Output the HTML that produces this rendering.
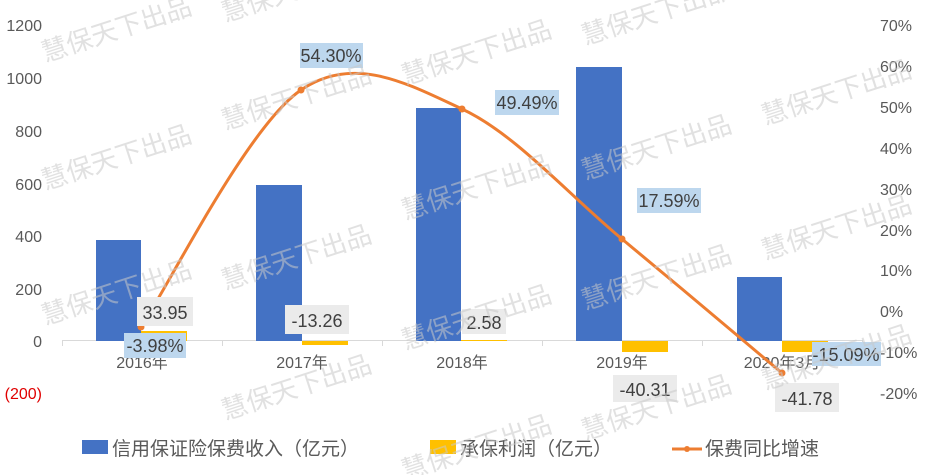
<!DOCTYPE html>
<html><head><meta charset="utf-8"><style>
body{margin:0;background:#fff}
svg{display:block;font-family:"Liberation Sans","Noto Sans CJK SC",sans-serif}
</style></head><body>
<svg width="932" height="475" viewBox="0 0 932 475">
<g font-size="16" fill="#595959" text-anchor="end">
<text x="42" y="31">1200</text><text x="42" y="84">1000</text><text x="42" y="137">800</text>
<text x="42" y="190">600</text><text x="42" y="242">400</text><text x="42" y="295">200</text>
<text x="42" y="347">0</text><text x="42" y="399" fill="#e00000">(200)</text>
</g>
<g font-size="16" fill="#595959">
<text x="880" y="31">70%</text><text x="880" y="72">60%</text><text x="880" y="113">50%</text>
<text x="880" y="154">40%</text><text x="880" y="195">30%</text><text x="880" y="236">20%</text>
<text x="880" y="276">10%</text><text x="880" y="317">0%</text><text x="880" y="358">-10%</text>
<text x="880" y="399">-20%</text>
</g>
<line x1="62" y1="340.5" x2="862" y2="340.5" stroke="#d9d9d9"/>
<g stroke="#d9d9d9"><line x1="62.5" y1="340" x2="62.5" y2="346"/><line x1="222.5" y1="340" x2="222.5" y2="346"/><line x1="382.5" y1="340" x2="382.5" y2="346"/><line x1="542.5" y1="340" x2="542.5" y2="346"/><line x1="702.5" y1="340" x2="702.5" y2="346"/><line x1="862.5" y1="340" x2="862.5" y2="346"/></g>
<g fill="#4472c4">
<rect x="96" y="240" width="45" height="101"/>
<rect x="256" y="185" width="46" height="156"/>
<rect x="416" y="108" width="45" height="233"/>
<rect x="576" y="67" width="46" height="274"/>
<rect x="737" y="277" width="45" height="64"/>
</g>
<g fill="#ffc000">
<rect x="141" y="331" width="46" height="10"/>
<rect x="302" y="341" width="46" height="4"/>
<rect x="461" y="340" width="46" height="1"/>
<rect x="622" y="341" width="46" height="11"/>
<rect x="782" y="341" width="46" height="11"/>
</g>
<g font-size="16" fill="#595959" text-anchor="middle">
<text x="142" y="368">2016年</text><text x="302" y="368">2017年</text><text x="462" y="368">2018年</text>
<text x="622" y="368">2019年</text><text x="782" y="368">2020年3月</text>
</g>
<path d="M141,327 C167.7,287.5 247.5,126.3 301,90 C354.5,53.7 408.5,84.2 462,109 C515.5,133.8 568.7,195 622,239 C675.3,283 755.3,350.7 782,373" fill="none" stroke="#ed7d31" stroke-width="3"/>
<g fill="#ed7d31"><circle cx="141" cy="327" r="3.5"/><circle cx="301" cy="90" r="3.5"/><circle cx="462" cy="109" r="3.5"/><circle cx="622" cy="239" r="3.5"/><circle cx="782" cy="373" r="3.5"/></g>
<g fill="#bdd7ee">
<rect x="300" y="43" width="63" height="25"/><rect x="495" y="90" width="64" height="25"/>
<rect x="637" y="188" width="64" height="25"/><rect x="124" y="333" width="62" height="25"/>
<rect x="812" y="342" width="69" height="24"/>
</g>
<g fill="#ebebeb">
<rect x="137" y="297" width="56" height="29"/><rect x="285" y="305" width="64" height="29"/>
<rect x="462" y="309" width="44" height="25"/><rect x="613" y="375" width="64" height="27"/>
<rect x="775" y="383" width="64" height="29"/>
</g>
<g font-size="18" fill="#404040" text-anchor="middle">
<text x="331" y="62">54.30%</text><text x="527" y="109">49.49%</text><text x="669" y="207">17.59%</text>
<text x="155" y="352">-3.98%</text><text x="846" y="361">-15.09%</text>
<text x="165" y="319">33.95</text><text x="317" y="327">-13.26</text><text x="484" y="329">2.58</text>
<text x="645" y="396">-40.31</text><text x="807" y="405">-41.78</text>
</g>
<rect x="82" y="440" width="26" height="14" fill="#4472c4"/>
<rect x="430" y="440" width="26" height="14" fill="#ffc000"/>
<line x1="672" y1="449" x2="702" y2="449" stroke="#ed7d31" stroke-width="3"/><circle cx="687" cy="449" r="3" fill="#ed7d31"/>
<g font-size="19" fill="#595959">
<text x="112" y="455">信用保证险保费收入（亿元）</text>
<text x="460" y="455">承保利润（亿元）</text>
<text x="705" y="455">保费同比增速</text>
</g>
<g font-size="26" fill="#c8c8c8" fill-opacity="0.55">
<text transform="translate(45,62) rotate(-18)">慧保天下出品</text>
<text transform="translate(225,22) rotate(-18)">慧保天下出品</text>
<text transform="translate(225,130) rotate(-18)">慧保天下出品</text>
<text transform="translate(405,85) rotate(-18)">慧保天下出品</text>
<text transform="translate(585,45) rotate(-18)">慧保天下出品</text>
<text transform="translate(765,125) rotate(-18)">慧保天下出品</text>
<text transform="translate(45,190) rotate(-18)">慧保天下出品</text>
<text transform="translate(405,220) rotate(-18)">慧保天下出品</text>
<text transform="translate(585,180) rotate(-18)">慧保天下出品</text>
<text transform="translate(45,325) rotate(-18)">慧保天下出品</text>
<text transform="translate(225,290) rotate(-18)">慧保天下出品</text>
<text transform="translate(405,350) rotate(-18)">慧保天下出品</text>
<text transform="translate(585,310) rotate(-18)">慧保天下出品</text>
<text transform="translate(765,260) rotate(-18)">慧保天下出品</text>
<text transform="translate(225,420) rotate(-18)">慧保天下出品</text>
<text transform="translate(765,390) rotate(-18)">慧保天下出品</text>
<text transform="translate(405,480) rotate(-18)">慧保天下出品</text>
<text transform="translate(585,440) rotate(-18)">慧保天下出品</text>
</g>
</svg>
</body></html>
